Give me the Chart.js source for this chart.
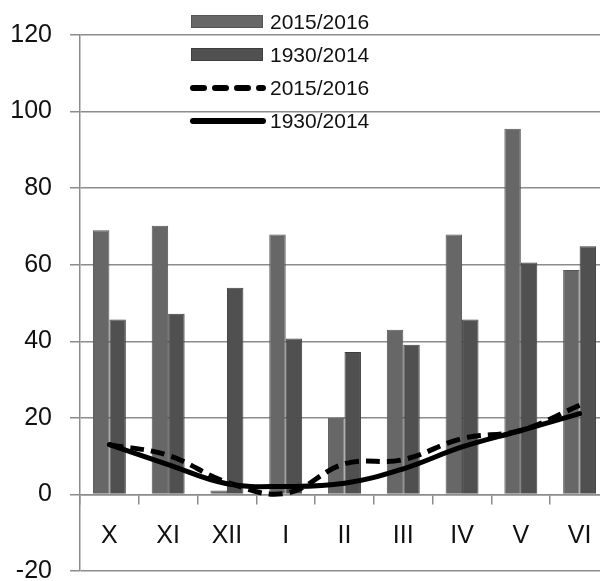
<!DOCTYPE html>
<html>
<head>
<meta charset="utf-8">
<script src="https://cdn.jsdelivr.net/npm/chart.js@4.4.1/dist/chart.umd.min.js"></script>
<style>
  html, body { margin: 0; padding: 0; background: #fff; overflow: hidden; }
  #wrap { position: relative; width: 612px; height: 581px; }
</style>
</head>
<body>
<div id="wrap"><canvas id="chart"></canvas></div>
<script>
// months, October to June
const months = ['X', 'XI', 'XII', 'I', 'II', 'III', 'IV', 'V', 'VI'];
const seriesNames = ['2015/2016', '1930/2014'];
// precipitation bars
const precipSeason = [69, 70.2, 1, 67.9, 20, 43, 67.9, 95.5, 58.6];
const precipLongTerm = [45.7, 47.2, 54, 40.7, 37.2, 39.1, 45.7, 60.6, 64.8];
// temperature lines
const tempSeason = [13, 10.2, 3.2, 0.3, 8, 9.1, 14.6, 16.7, 23.3];
const tempLongTerm = [13, 7.8, 2.8, 2.1, 2.9, 6.7, 12.4, 16.7, 21.1];
const yTicks = [-20, 0, 20, 40, 60, 80, 100, 120];

const lightBar = '#676767';
const darkBar = '#505050';
const gridGray = '#8c8c8c';

// legend drawn by hand at the top, stacked vertically like the original
const stackedLegend = {
  id: 'stackedLegend',
  afterDraw(chart) {
    const ctx = chart.ctx;
    const x0 = 191, x1 = 263, tx = 270;
    const rows = [22, 55, 88, 121];
    ctx.save();
    chart.data.datasets.forEach((ds, i) => {
      const y = rows[i];
      if (ds.type === 'bar') {
        ctx.fillStyle = ds.backgroundColor;
        ctx.strokeStyle = ds.borderColor;
        ctx.lineWidth = 1;
        ctx.fillRect(x0, y - 7, x1 - x0, 13);
        ctx.strokeRect(x0 + 0.5, y - 6.5, x1 - x0 - 1, 12);
      } else {
        ctx.strokeStyle = '#000';
        ctx.lineWidth = 6;
        ctx.lineCap = 'round';
        ctx.setLineDash(ds.borderDash && ds.borderDash.length ? [11, 11] : []);
        ctx.beginPath();
        ctx.moveTo(x0 + 2, y);
        ctx.lineTo(x1, y);
        ctx.stroke();
        ctx.setLineDash([]);
      }
      ctx.fillStyle = '#111';
      ctx.font = '21px "Liberation Sans", Arial, sans-serif';
      ctx.textBaseline = 'middle';
      ctx.fillText(ds.label, tx, y + 1);
    });
    ctx.restore();
  }
};

new Chart(document.getElementById('chart'), {
  data: {
    labels: months,
    datasets: [
      {
        type: 'bar', label: seriesNames[0], data: precipSeason,
        backgroundColor: lightBar, borderColor: '#555', borderWidth: 1,
        barPercentage: 1.0, categoryPercentage: 0.56, order: 2
      },
      {
        type: 'bar', label: seriesNames[1], data: precipLongTerm,
        backgroundColor: darkBar, borderColor: '#3e3e3e', borderWidth: 1,
        barPercentage: 1.0, categoryPercentage: 0.56, order: 2
      },
      {
        type: 'line', label: seriesNames[0], data: tempSeason,
        borderColor: '#000', borderWidth: 5, borderDash: [14, 7],
        pointRadius: 0, tension: 0.4, fill: false, order: 0
      },
      {
        type: 'line', label: seriesNames[1], data: tempLongTerm,
        borderColor: '#000', borderWidth: 5, borderCapStyle: 'round',
        pointRadius: 0, tension: 0.4, fill: false, order: 1
      }
    ]
  },
  options: {
    responsive: true,
    maintainAspectRatio: false,
    animation: false,
    layout: { padding: { top: 35, bottom: 10, right: 3, left: 0 } },
    plugins: {
      legend: { display: false },
      tooltip: { enabled: false }
    },
    scales: {
      x: {
        position: { y: 0 },
        offset: true,
        afterFit: (s) => { s.height = 0; s.paddingLeft = 0; s.paddingRight = 0; },
        grid: { display: true, drawOnChartArea: false, drawTicks: true, tickLength: 9, color: gridGray, lineWidth: 1.5, offset: true },
        border: { display: true, color: gridGray, width: 1.5 },
        ticks: { color: '#111', font: { family: '"Liberation Sans", Arial, sans-serif', size: 25 }, padding: 18, maxRotation: 0 }
      },
      y: {
        min: yTicks[0],
        max: yTicks[yTicks.length - 1],
        afterBuildTicks: (s) => { s.ticks = yTicks.map(v => ({ value: v })); },
        afterFit: (s) => { s.width = 80; s.paddingTop = 0; s.paddingBottom = 0; },
        grid: { color: gridGray, lineWidth: 1.5, tickLength: 10 },
        border: { display: true, color: gridGray, width: 1.5 },
        ticks: { color: '#111', font: { family: '"Liberation Sans", Arial, sans-serif', size: 25 }, padding: 18 }
      }
    }
  },
  plugins: [stackedLegend]
});
</script>
</body>
</html>
